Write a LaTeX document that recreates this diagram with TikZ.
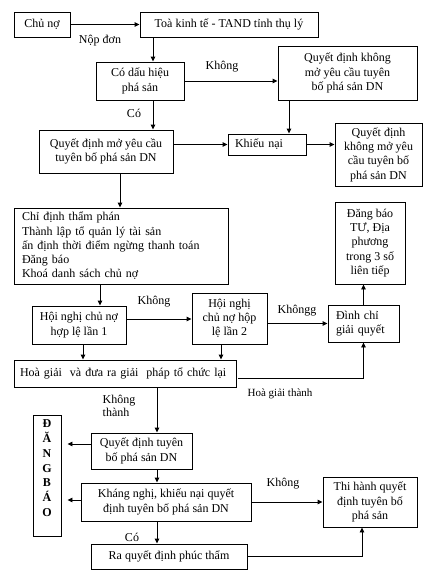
\documentclass[tikz,border=0pt]{standalone}
\usepackage{fontspec}
\setmainfont{Liberation Serif}
\usetikzlibrary{arrows.meta}
\begin{document}
\begin{tikzpicture}[x=1pt,y=-1pt,
  box/.style={draw, line width=0.9pt, inner xsep=2pt, inner ysep=1pt, align=center, font=\fontsize{12}{14.3}\selectfont},
  lbox/.style={box, align=left},
  arr/.style={line width=0.9pt, -{Triangle[length=5pt,width=4.5pt]}},
  ln/.style={line width=0.9pt},
  lbl/.style={font=\fontsize{12}{13}\selectfont, inner sep=0pt, align=left}]
\useasboundingbox[fill=white] (0,0) rectangle (430,576);

% nodes
\node[box, minimum width=56pt, minimum height=25pt] (chuno) at (42,24.5) {Chủ nợ};
\node[box, minimum width=178pt, minimum height=25pt] (toa) at (229,24.5) {Toà kinh tế - TAND tỉnh thụ lý};
\node[box, minimum width=88pt, minimum height=38pt] (cdh) at (140,81) {Có dấu hiệu\\phá sản};
\node[box, minimum width=139pt, minimum height=54pt] (qdkm1) at (347.5,73) {Quyết định không\\mở yêu cầu tuyên\\bố phá sản DN};
\node[box, minimum width=134pt, minimum height=43pt] (qdm) at (106,151.5) {Quyết định mở yêu cầu\\tuyên bố phá sản DN};
\node[lbox, text width=64pt, inner xsep=7pt, minimum height=21pt] (khieunai) at (267,144.5) {Khiếu nại};
\node[box, minimum width=87pt, minimum height=63pt] (qdkm2) at (378.5,154.5) {Quyết định\\không mở yêu\\cầu tuyên bố\\phá sản DN};
\node[lbox, text width=198pt, inner xsep=8pt, minimum height=76pt] (chidinh) at (121,246) {Chỉ định thẩm phán\\Thành lập tổ quản lý tài sản\\ấn định thời điểm ngừng thanh toán\\Đăng báo\\Khoá danh sách chủ nợ};
\node[box, minimum width=70pt, minimum height=82pt] (dangbao1) at (370,243) {Đăng báo\\TƯ, Địa\\phương\\trong 3 số\\liên tiếp};
\node[box, minimum width=94pt, minimum height=38pt] (hn1) at (79,325) {Hội nghị chủ nợ\\hợp lệ lần 1};
\node[box, minimum width=75pt, minimum height=51pt] (hn2) at (229.5,318.5) {Hội nghị\\chủ nợ hộp\\lệ lần 2};
\node[lbox, text width=55pt, inner xsep=8pt, minimum height=37pt] (dinhchi) at (363.5,323.5) {Đình chỉ\\giải quyết};
\node[lbox, text width=210pt, inner xsep=6pt, minimum height=27pt] (hoagiai) at (125,373.5) {Hoà giải\ \ và đưa ra giải\ \ pháp tổ chức lại};
\node[box, font=\fontsize{12}{14.7}\selectfont\bfseries, minimum width=28pt, minimum height=121pt] (dangbao2) at (47,475.5) {Đ\\Ă\\N\\G\\B\\Á\\O\\ \mbox{}};
\node[box, minimum width=101pt, minimum height=36pt] (qdtb) at (141.5,451) {Quyết định tuyên\\bố phá sản DN};
\node[box, minimum width=170pt, minimum height=38pt] (khangnghi) at (166,502) {Kháng nghị, khiếu nại quyết\\định tuyên bố phá sản DN};
\node[box, minimum width=156pt, minimum height=25pt] (raqd) at (169,556.5) {Ra quyết định phúc thẩm};
\node[box, minimum width=94pt, minimum height=50pt] (thihanh) at (370,502) {Thi hành quyết\\định tuyên bố\\phá sản};

% connectors
\draw[arr] (chuno.east) -- (toa.west);
\draw[arr] (153,0 |- toa.south) -- (153,0 |- cdh.north);
\draw[arr] (cdh.east) -- (cdh.east -| qdkm1.west);
\draw[arr] (153,0 |- cdh.south) -- (153,0 |- qdm.north);
\draw[arr] (289,0 |- qdkm1.south) -- (289,0 |- khieunai.north);
\draw[arr] (qdm.east |- khieunai.west) -- (khieunai.west);
\draw[arr] (khieunai.east) -- (khieunai.east -| qdkm2.west);
\draw[arr] (120,0 |- qdm.south) -- (120,0 |- chidinh.north);
\draw[arr] (100,0 |- chidinh.south) -- (100,0 |- hn1.north);
\draw[arr] (hn1.east |- 0,319) -- (hn2.west |- 0,319);
\draw[arr] (hn2.east |- dinhchi.west) -- (dinhchi.west);
\draw[arr] (dinhchi.north) -- (dinhchi.north |- dangbao1.south);
\draw[arr] (83,0 |- hn1.south) -- (83,0 |- hoagiai.north);
\draw[arr] (221,0 |- hn2.south) -- (221,0 |- hoagiai.north);
\draw[arr] ([xshift=2pt]hoagiai.east |- 0,378) -| (dinhchi.south);
\draw[arr] (157,0 |- hoagiai.south) -- (157,0 |- qdtb.north);
\draw[arr] (qdtb.west |- 0,444) -- ([xshift=6pt]dangbao2.east |- 0,444);
\draw[arr] (khangnghi.west |- 0,500) -- ([xshift=6pt]dangbao2.east |- 0,500);
\draw[arr] (157,0 |- qdtb.south) -- (157,0 |- khangnghi.north);
\draw[arr] (157,0 |- khangnghi.south) -- (157,0 |- raqd.north);
\draw[arr] (khangnghi.east) -- (khangnghi.east -| thihanh.west);
\draw[arr] (raqd.east) -| ([xshift=-8pt]thihanh.south);

% labels
\node[lbl] (l1) at (100,41) {Nộp đơn};
\node[lbl] (l2) at (222,67) {Không};
\node[lbl] (l3) at (134,113) {Có};
\node[lbl] (l4) at (154,302) {Không};
\node[lbl] (l5) at (297,311) {Khôngg};
\node[lbl, font=\fontsize{11}{13}\selectfont] (l6) at (280,394) {Hoà giải thành};
\node[lbl] (l7) at (119,406) {Không\\thành};
\node[lbl] (l8) at (132,537) {Có};
\node[lbl] (l9) at (283,484) {Không};
\end{tikzpicture}
\end{document}
